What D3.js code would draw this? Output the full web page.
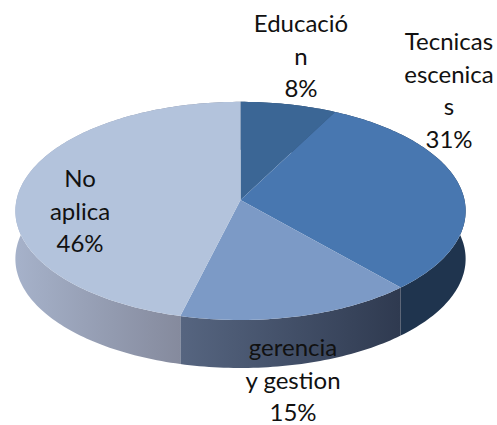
<!DOCTYPE html>
<html>
<head>
<meta charset="utf-8">
<script src="https://cdn.jsdelivr.net/npm/d3@7"></script>
<style>
  html, body { margin: 0; padding: 0; background: #fff; }
  svg { display: block; }
  text { font-family: Lato, "Open Sans", sans-serif; font-size: 24px; fill: #111; text-anchor: middle; }
</style>
</head>
<body>
<div id="chart"></div>
<script>
// values, clockwise from 12 o'clock
var categories = ["Educación", "Tecnicas escenicas", "gerencia y gestion", "No aplica"];
var values = [7.6, 30.9, 15.4, 46.1];
// the labels wrap mid word in the original
var labelLines = [
  ["Educació", "n", "8%"],
  ["Tecnicas", "escenica", "s", "31%"],
  ["gerencia", "y gestion", "15%"],
  ["No", "aplica", "46%"]
];
var topColors = ["#3b6695", "#4877b0", "#7c9ac6", "#b3c3dc"];

var width = 497, height = 425;
var apex = {x: 240.5, y: 200};
// tilted disc: radii on screen plus perspective strength
var radiusX = 224, radiusY = 108, persp = 0.1;
var depth = 48;
var labelX = [301, 449, 293, 80];
var labelTop = [32, 50, 356, 187];
var lineStep = 32.5;

var svg = d3.select("#chart").append("svg")
  .attr("width", width)
  .attr("height", height);

var defs = svg.append("defs");
function addGradient(id, x1, x2, from, to) {
  var g = defs.append("linearGradient")
    .attr("id", id)
    .attr("gradientUnits", "userSpaceOnUse")
    .attr("x1", x1).attr("x2", x2)
    .attr("y1", 0).attr("y2", 0);
  g.append("stop").attr("offset", 0).attr("stop-color", from);
  g.append("stop").attr("offset", 1).attr("stop-color", to);
}
addGradient("sideGer", 181, 400, "#566580", "#2f3a50");
addGradient("sideNo", 15, 181, "#a6b2ca", "#858a9d");
var sideFills = ["#2a4668", "#1f344e", "url(#sideGer)", "url(#sideNo)"];

var pie = d3.pie().sort(null);
var slices = pie(values);

function project(a, dy) {
  var X = Math.sin(a), Y = Math.cos(a);
  var w = 1 + persp * Y;
  return [apex.x + radiusX * X / w, apex.y - radiusY * Y / w + (dy || 0)];
}

function rim(d, dy) {
  var steps = Math.max(2, Math.ceil((d.endAngle - d.startAngle) / 0.02));
  var scale = d3.scaleLinear().domain([0, steps]).range([d.startAngle, d.endAngle]);
  return d3.range(steps + 1).map(function(i) { return project(scale(i), dy); });
}

var line = d3.line();

// side walls first, the top faces hide whatever is behind them
svg.selectAll("path.side")
  .data(slices)
  .enter()
  .append("path")
    .attr("class", "side")
    .attr("fill", function(d, i) { return sideFills[i]; })
    .attr("d", function(d) {
      return line(rim(d, 0).concat(rim(d, depth).reverse())) + "Z";
    });

svg.selectAll("path.top")
  .data(slices)
  .enter()
  .append("path")
    .attr("class", "top")
    .attr("fill", function(d, i) { return topColors[i]; })
    .attr("d", function(d) {
      return line([[apex.x, apex.y]].concat(rim(d, 0))) + "Z";
    });

var labels = svg.selectAll("g.label")
  .data(labelLines)
  .enter()
  .append("g")
    .attr("class", "label")
    .attr("transform", function(d, i) {
      return "translate(" + labelX[i] + "," + labelTop[i] + ")";
    });

labels.selectAll("text")
  .data(function(d) { return d; })
  .enter()
  .append("text")
    .attr("y", function(d, i) { return i * lineStep; })
    .text(function(d) { return d; });
</script>
</body>
</html>
